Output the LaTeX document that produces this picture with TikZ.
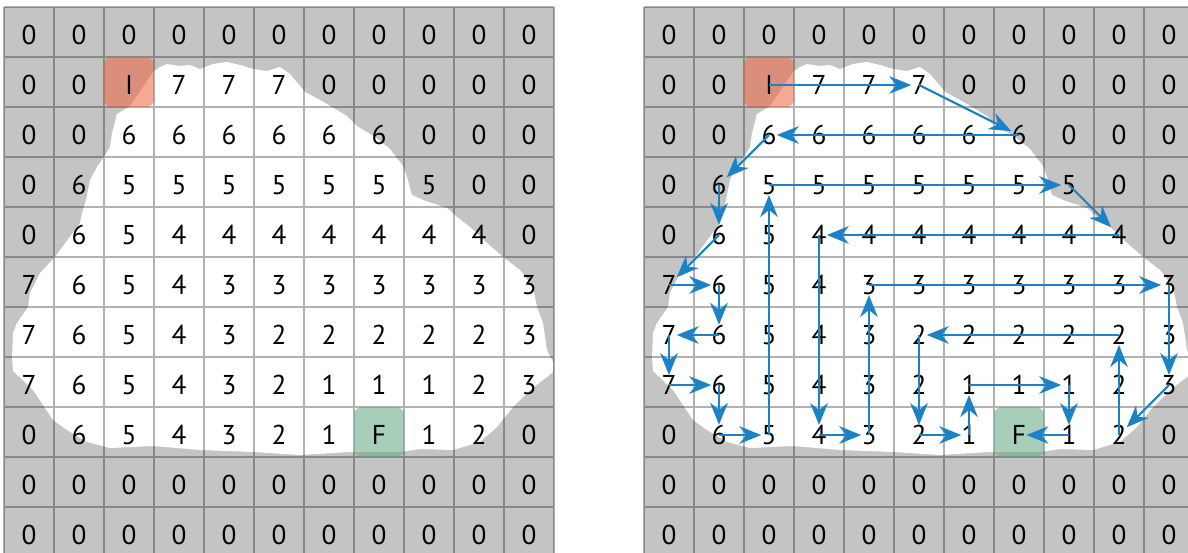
\documentclass[tikz,border=0pt]{standalone}
\usepackage{fontspec}
\setmainfont{PT Sans}
\usepackage{xcolor}
\usepackage{tikz}
\usetikzlibrary{arrows.meta}
\definecolor{cellgray}{RGB}{196,196,196}
\definecolor{walkblue}{RGB}{27,130,200}
\definecolor{startred}{RGB}{238,100,62}
\definecolor{goalgreen}{RGB}{96,166,126}

\begin{document}
\begin{tikzpicture}[x=0.02cm,y=-0.02cm,
    val/.style={inner sep=0pt,font=\fontsize{15.5}{18}\selectfont},
    gridline/.style={black,opacity=0.3,line width=0.6pt},
    tile/.style={rounded corners=4.5pt,opacity=0.55},
    hop/.style={walkblue,line width=1.2pt,-{Stealth[length=12.5pt,width=10pt,inset=4pt]}}]
  \useasboundingbox (0,0) rectangle (1188,552);
  \clip (0,0) rectangle (1188,552);
  \foreach \gx/\p in {0/l,640/r}{
    \begin{scope}[shift={(\gx,0)}]
      \fill[cellgray] (4,7) rectangle (554,557);
      \fill[white] (154,71) -- (160,67) -- (167,64) -- (180,66) -- (190,65) -- (200,69)
        -- (213,64) -- (227,62) -- (240,65) -- (253,69) -- (267,71) -- (280,67) -- (290,74)
        -- (305,92) -- (320,100) -- (347,116) -- (357,126) -- (375,137) -- (390,149)
        -- (403,166) -- (407,177) -- (412,195) -- (423,200) -- (447,208) -- (457,217)
        -- (470,227) -- (487,243) -- (503,257) -- (520,270) -- (533,287) -- (537,307)
        -- (543,323) -- (547,350) -- (553,362) -- (553,372) -- (547,377) -- (530,390)
        -- (513,407) -- (497,427) -- (480,442) -- (453,450) -- (420,449) -- (400,452)
        -- (350,452) -- (300,455) -- (253,452) -- (200,450) -- (153,446) -- (110,448)
        -- (87,442) -- (67,430) -- (53,420) -- (33,390) -- (13,371) -- (12,357) -- (13,333)
        -- (17,323) -- (28,307) -- (30,293) -- (40,273) -- (55,257) -- (80,223) -- (82,213)
        -- (86,200) -- (90,180) -- (97,167) -- (104,157) -- (110,147) -- (112,133)
        -- (117,114) -- (130,106) -- cycle;
      \draw[gridline] \foreach \i in {0,...,11}{({4+50*\i},7) -- ({4+50*\i},557)
        (4,{7+50*\i}) -- (554,{7+50*\i})};
      \fill[startred,tile] (104,57) rectangle ++(50,50);
      \fill[goalgreen,tile] (354,407) rectangle ++(50,50);
      \foreach \row [count=\r from 0] in {
          {0,0,0,0,0,0,0,0,0,0,0},
          {0,0,I,7,7,7,0,0,0,0,0},
          {0,0,6,6,6,6,6,6,0,0,0},
          {0,6,5,5,5,5,5,5,5,0,0},
          {0,6,5,4,4,4,4,4,4,4,0},
          {7,6,5,4,3,3,3,3,3,3,3},
          {7,6,5,4,3,2,2,2,2,2,3},
          {7,6,5,4,3,2,1,1,1,2,3},
          {0,6,5,4,3,2,1,F,1,2,0},
          {0,0,0,0,0,0,0,0,0,0,0},
          {0,0,0,0,0,0,0,0,0,0,0}}
        \foreach \v [count=\c from 0] in \row
          \node[val] (\p-\r-\c) at ({29+50*\c},{35+50*\r}) {\v};
    \end{scope}
  }
  \foreach \a/\b in {1-2/1-5, 1-5/2-7, 2-7/2-2, 2-2/3-1, 3-1/4-1, 4-1/5-0, 5-0/5-1,
      5-1/6-1, 6-1/6-0, 6-0/7-0, 7-0/7-1, 7-1/8-1, 8-1/8-2, 8-2/3-2, 3-2/3-8, 3-8/4-9,
      4-9/4-3, 4-3/8-3, 8-3/8-4, 8-4/5-4, 5-4/5-10, 5-10/7-10, 7-10/8-9, 8-9/6-9,
      6-9/6-5, 6-5/8-5, 8-5/8-6, 8-6/7-6, 7-6/7-8, 7-8/8-8, 8-8/8-7}
    \draw[hop] (r-\a.center) -- (r-\b);
\end{tikzpicture}
\end{document}
